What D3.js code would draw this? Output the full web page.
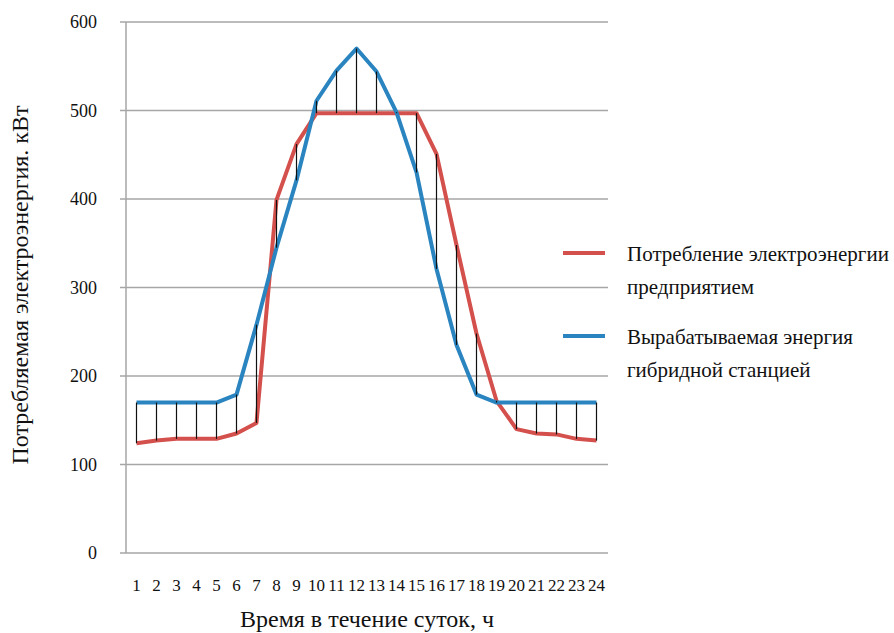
<!DOCTYPE html>
<html><head><meta charset="utf-8">
<script src="https://cdn.jsdelivr.net/npm/d3@7"></script>
<style>body{margin:0;background:#fff}svg{display:block}</style>
</head><body>
<script>
const hours = d3.range(1, 25);
const hourLabels = ["1","2","3","4","5","6","7","8","9","10","11","12","13","14","15","16","17","18","19","20","21","22","23","24"];
const consumption = [124,127,129,129,129,135,147,399,462,497,497,497,497,497,497,451,348,248,172,140,135,134,129,127];
const generation  = [170,170,170,170,170,179,258,345,421,511,545,570,544,498,430,321,235,179,170,170,170,170,170,170];
const yTicks = [0,100,200,300,400,500,600];
const seriesNames = [["Потребление электроэнергии","предприятием"],["Вырабатываемая энергия","гибридной станцией"]];
const colors = ["#d4504c","#2a84bf"];
const yTitle = "Потребляемая электроэнергия. кВт";
const xTitle = "Время в течение суток, ч";

const FONT = '"Liberation Serif"';
const W = 894, H = 633;
const svg = d3.select("body").append("svg").attr("width", W).attr("height", H);
const pLeft = 126, pRight = 608, pTop = 22, pBottom = 553;
const x = d3.scaleBand().domain(hours).range([pLeft + 0.5, pLeft + 480.5]).padding(0);
const y = d3.scaleLinear().domain([0, 600]).range([pBottom, pTop]);
const cx = h => x(h) + x.bandwidth() / 2;

svg.append("g").selectAll("line").data(yTicks).join("line")
  .attr("x1", pLeft - 6).attr("x2", pRight).attr("y1", d => y(d)).attr("y2", d => y(d))
  .attr("stroke", "#a6a6a6").attr("stroke-width", 1.5);
svg.append("line").attr("x1", pLeft).attr("x2", pLeft).attr("y1", pTop).attr("y2", pBottom)
  .attr("stroke", "#a6a6a6").attr("stroke-width", 1.5);

const yAxis = d3.axisLeft(y).tickValues(yTicks).tickSize(0).tickPadding(0);
const ga = svg.append("g").attr("transform", `translate(${pLeft - 29},0)`).call(yAxis);
ga.attr("font-family", null).attr("font-size", null);
ga.select(".domain").remove();
ga.selectAll("text").style("font-family", FONT).style("font-size", "18px").attr("fill", "#111");

const xAxis = d3.axisBottom(x).tickFormat((d, i) => hourLabels[i]).tickSize(0).tickPadding(0);
const gx = svg.append("g").attr("transform", `translate(0,${pBottom + 26})`).call(xAxis);
gx.attr("font-family", null).attr("font-size", null);
gx.select(".domain").remove();
gx.selectAll("text").style("font-family", FONT).style("font-size", "17px").attr("fill", "#111");

const line = d3.line().x((d, i) => cx(hours[i])).y(d => y(d));
[consumption, generation].forEach((s, k) => {
  svg.append("path").datum(s).attr("d", line).attr("fill", "none")
    .attr("stroke", colors[k]).attr("stroke-width", 4).attr("stroke-linejoin", "round");
});

svg.append("g").selectAll("line").data(hours).join("line")
  .attr("x1", d => cx(d)).attr("x2", d => cx(d))
  .attr("y1", (d, i) => y(consumption[i])).attr("y2", (d, i) => y(generation[i]))
  .attr("stroke", "#111").attr("stroke-width", 1.2);

const lg = svg.append("g");
const legY = [253, 336];
seriesNames.forEach((lines, k) => {
  lg.append("line").attr("x1", 563).attr("x2", 605).attr("y1", legY[k]).attr("y2", legY[k])
    .attr("stroke", colors[k]).attr("stroke-width", 4);
  lines.forEach((t, j) => {
    lg.append("text").attr("x", 627).attr("y", legY[k] + 8 + j * 33)
      .style("font-family", FONT).style("font-size", "21px").attr("fill", "#111").text(t);
  });
});

svg.append("text").attr("x", 367).attr("y", 627).attr("text-anchor", "middle")
  .style("font-family", FONT).style("font-size", "24px").attr("fill", "#111").text(xTitle);
svg.append("text").attr("transform", "translate(28,285) rotate(-90)").attr("text-anchor", "middle")
  .style("font-family", FONT).style("font-size", "24px").attr("fill", "#111").text(yTitle);
</script>
</body></html>
